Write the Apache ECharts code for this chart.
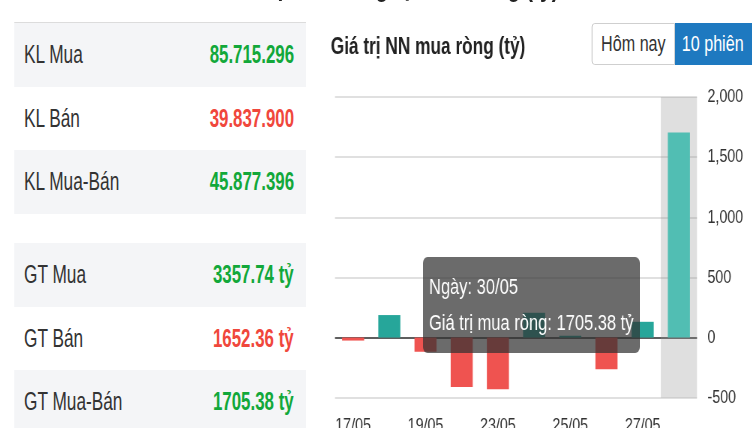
<!DOCTYPE html>
<html lang="vi">
<head>
<meta charset="UTF-8">
<script src="https://cdn.jsdelivr.net/npm/echarts@6/dist/echarts.min.js"></script>
<title>Giá trị NN mua ròng</title>
<style>
    body { margin:0; overflow:hidden; background:#fff; font-family:'Liberation Sans', Arial, Helvetica, sans-serif; }
    /* the source screenshot is squeezed sideways, so lay out wide and squeeze */
    #page { position:relative; width:1003px; height:428px; transform:scaleX(0.75); transform-origin:0 0; }
    .heading { position:absolute; left:283px; top:-27.5px; font-size:28px; line-height:28px; font-weight:bold; color:#222; white-space:nowrap; }
    .stats { position:absolute; left:19px; top:22px; width:389px; border-top:1px solid #dcdcdc; background:#fff; }
    .row { display:flex; justify-content:space-between; align-items:center; height:63.5px; padding:0 16px 0 13px; font-size:25px; color:#333; }
    .row.gray { background:#f4f5f7; }
    .row span { display:inline-block; transform:scaleX(0.92); transform-origin:0 50%; white-space:nowrap; }
    .row b { display:inline-block; font-weight:bold; transform:scaleX(0.9); transform-origin:100% 50%; white-space:nowrap; }
    .gap { height:29.5px; }
    .up { color:#12a83a; }
    .down { color:#f0473c; }
    .btn { position:absolute; top:23px; height:42px; box-sizing:border-box; display:flex; align-items:center; font-size:21.5px; }
    #container { position:absolute; left:430px; top:0; width:573px; height:428px; }
</style>
</head>
<body>
<div id="page">
    <div class="heading">Giao dịch khối ngoại mua ròng (tỷ)</div>
    <div class="stats" id="stats"></div>
    <div class="btn" style="left:789px; width:111px; border:1px solid #c8c8c8; border-radius:4px 0 0 4px; justify-content:center; color:#333; background:#fff;">Hôm nay</div>
    <div class="btn" style="left:900px; width:130px; padding-left:9px; background:#1e79c0; color:#fff;">10 phiên</div>
    <div id="container"></div>
</div>
<script>
    // left panel
    let statLabels = ['KL Mua', 'KL Bán', 'KL Mua-Bán', 'GT Mua', 'GT Bán', 'GT Mua-Bán'];
    let statValues = ['85.715.296', '39.837.900', '45.877.396', '3357.74 tỷ', '1652.36 tỷ', '1705.38 tỷ'];
    let statClass = ['up', 'down', 'up', 'up', 'down', 'up'];

    // chart
    let dates = ['17/05', '18/05', '19/05', '20/05', '23/05', '24/05', '25/05', '26/05', '27/05', '30/05'];
    let netValues = [-25, 187, -118, -411, -430, 206, 15, -264, 131, 1705.38];
    let yTicks = { min: -500, max: 2000, interval: 500 };
    let activeIndex = 9;

    let html = '';
    statLabels.forEach(function (lab, i) {
        if (i === 3) html += '<div class="gap"></div>';
        let gray = (i % 3 !== 1) ? ' gray' : '';
        html += '<div class="row' + gray + '"><span>' + lab + '</span><b class="' + statClass[i] + '">' + statValues[i] + '</b></div>';
    });
    document.getElementById('stats').innerHTML = html;

    let font = "'Liberation Sans', Arial, Helvetica, sans-serif";
    let dom = document.getElementById('container');
    let myChart = echarts.init(dom);

    let barData = netValues.map(function (v, i) {
        let c = v >= 0 ? (i === activeIndex ? '#4aada3' : '#26a69a') : '#ef5350';
        return { value: v, itemStyle: { color: c } };
    });

    let option = {
        animation: false,
        title: {
            text: 'Giá trị NN mua ròng (tỷ)',
            left: 11,
            top: 36,
            padding: 0,
            textStyle: { fontFamily: font, fontSize: 23, fontWeight: 'bold', color: '#222' }
        },
        grid: {
            left: 16.7,
            right: 73.7,
            top: 97,
            bottom: 30.3,
            containLabel: false,
            outerBoundsMode: 'none'
        },
        tooltip: {
            trigger: 'axis',
            triggerOn: 'none',
            alwaysShowContent: true,
            transitionDuration: 0,
            position: [134, 257],
            backgroundColor: 'rgba(50,50,50,0.72)',
            borderWidth: 0,
            padding: [12, 8],
            textStyle: { color: '#fff', fontSize: 22, fontFamily: font },
            extraCssText: 'border-radius:6px;box-shadow:none;line-height:36px;',
            axisPointer: {
                type: 'shadow',
                shadowStyle: { color: 'rgba(150,150,150,0.3)' }
            },
            formatter: function (params) {
                let p = params[0];
                return 'Ngày: ' + p.name + '<br/>Giá trị mua ròng: ' + p.value.toFixed(2) + ' tỷ';
            }
        },
        xAxis: {
            type: 'category',
            data: dates,
            axisLine: { show: false, onZero: false },
            axisTick: { show: false },
            splitLine: { show: false },
            axisLabel: { interval: 1, margin: 19, fontSize: 19, color: '#333', fontFamily: font }
        },
        yAxis: {
            type: 'value',
            position: 'right',
            min: yTicks.min,
            max: yTicks.max,
            interval: yTicks.interval,
            axisLine: { show: false },
            axisTick: { show: false },
            splitLine: { lineStyle: { color: '#d6d6d6', width: 1.5 } },
            axisLabel: {
                margin: 14,
                fontSize: 19,
                color: '#333',
                fontFamily: font,
                formatter: function (v) { return v.toLocaleString('en-US'); }
            }
        },
        series: [{
            name: 'Giá trị mua ròng',
            type: 'bar',
            z: 60,
            barWidth: '61%',
            data: barData,
            markLine: {
                silent: true,
                symbol: 'none',
                label: { show: false },
                lineStyle: { color: '#333', width: 1.5, type: 'solid' },
                data: [{ yAxis: 0 }]
            }
        }]
    };

    myChart.setOption(option);
    myChart.dispatchAction({ type: 'showTip', seriesIndex: 0, dataIndex: activeIndex });
</script>
</body>
</html>
